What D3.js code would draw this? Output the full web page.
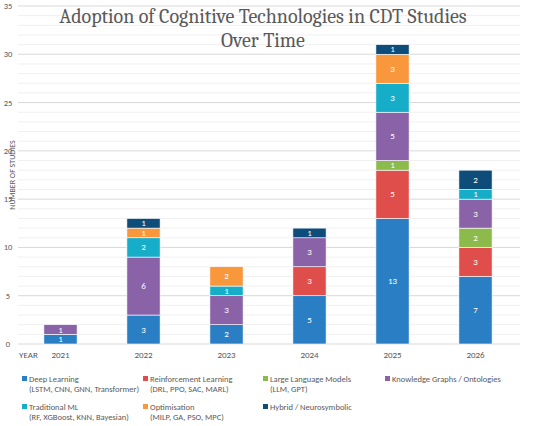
<!DOCTYPE html>
<html>
<head>
<meta charset="utf-8">
<script src="https://cdn.jsdelivr.net/npm/d3@7"></script>
<style>
  body { margin: 0; background: #fff; }
  text { font-family: Calibri, Carlito, "Open Sans", sans-serif; }
  text.title { font-family: Cambria, "Liberation Serif", "DejaVu Serif", serif; }
</style>
</head>
<body>
<svg id="chart" width="550" height="426"></svg>
<script>
const YEARS = ['2021', '2022', '2023', '2024', '2025', '2026'];
const SERIES = ['Deep Learning', 'Reinforcement Learning', 'Large Language Models',
  'Knowledge Graphs / Ontologies', 'Traditional ML', 'Optimisation', 'Hybrid / Neurosymbolic'];
const SUBLABELS = ['(LSTM, CNN, GNN, Transformer)', '(DRL, PPO, SAC, MARL)', '(LLM, GPT)',
  '', '(RF, XGBoost, KNN, Bayesian)', '(MILP, GA, PSO, MPC)', ''];
const COLORS = ['#2a7fc4', '#e04e4b', '#8cbb4b', '#8a62a8', '#15adc7', '#f9973c', '#0e4c7a'];
const deepLearning = [1, 3, 2, 5, 13, 7];
const reinforcement = [0, 0, 0, 3, 5, 3];
const llm = [0, 0, 0, 0, 1, 2];
const knowledgeGraphs = [1, 6, 3, 3, 5, 3];
const traditionalML = [0, 2, 1, 0, 3, 1];
const optimisation = [0, 1, 2, 0, 3, 0];
const hybrid = [0, 1, 0, 1, 1, 2];
const Y_TICKS = [0, 5, 10, 15, 20, 25, 30, 35];

const values = [deepLearning, reinforcement, llm, knowledgeGraphs, traditionalML, optimisation, hybrid];
const rows = YEARS.map((y, i) => {
  const r = { year: y };
  SERIES.forEach((s, k) => { r[s] = values[k][i]; });
  return r;
});
const stacked = d3.stack().keys(SERIES)(rows);

const svg = d3.select('#chart');
const x = d3.scaleBand().domain(YEARS).range([19, 517]).paddingInner(0.6).paddingOuter(0.3);
const y = d3.scaleLinear().domain([0, 35]).range([344, 6]);

// minor + major grid
svg.append('g').selectAll('line').data(d3.range(0, 36))
  .join('line')
  .attr('x1', 18).attr('x2', 520)
  .attr('y1', d => y(d)).attr('y2', d => y(d))
  .attr('stroke', d => d % 5 === 0 ? '#d9d9d9' : '#f0f0f0')
  .attr('stroke-width', 1);

svg.append('g').selectAll('text').data(Y_TICKS)
  .join('text')
  .attr('x', 8).attr('y', d => y(d) + 3)
  .attr('text-anchor', 'middle')
  .attr('font-size', 8.5).attr('fill', '#595959')
  .text(d => d);

svg.append('text')
  .attr('transform', 'translate(15,175) rotate(-90)')
  .attr('text-anchor', 'middle')
  .attr('font-size', 8).attr('fill', '#595959')
  .text('NUMBER OF STUDIES');

const layer = svg.append('g').selectAll('g').data(stacked)
  .join('g').attr('fill', (d, i) => COLORS[i]);

layer.selectAll('rect').data(d => d.filter(p => p[1] > p[0]))
  .join('rect')
  .attr('x', d => x(d.data.year))
  .attr('width', x.bandwidth())
  .attr('y', d => y(d[1]))
  .attr('height', d => y(d[0]) - y(d[1]))
  .attr('stroke', '#fff').attr('stroke-width', 0.6);

layer.selectAll('text').data(d => d.filter(p => p[1] > p[0]))
  .join('text')
  .attr('x', d => x(d.data.year) + x.bandwidth() / 2)
  .attr('y', d => (y(d[0]) + y(d[1])) / 2 + 3)
  .attr('text-anchor', 'middle')
  .attr('font-size', 9).attr('fill', '#fff')
  .text(d => d[1] - d[0]);

svg.append('g').selectAll('text').data(YEARS)
  .join('text')
  .attr('x', d => x(d) + x.bandwidth() / 2)
  .attr('y', 358)
  .attr('text-anchor', 'middle')
  .attr('font-size', 9).attr('fill', '#595959')
  .text(d => d);
svg.append('text').attr('x', 19).attr('y', 358)
  .attr('font-size', 9).attr('fill', '#595959').text('YEAR');

// title
const title = svg.append('text')
  .attr('class', 'title')
  .attr('text-anchor', 'middle')
  .attr('font-size', 20).attr('fill', '#595959');
title.append('tspan').attr('x', 263).attr('y', 23).text('Adoption of Cognitive Technologies in CDT Studies');
title.append('tspan').attr('x', 263).attr('y', 47).text('Over Time');

// legend
const legX = [22, 143, 263, 385];
const leg = svg.append('g').selectAll('g').data(SERIES)
  .join('g')
  .attr('transform', (d, i) => `translate(${legX[i % 4]},${i < 4 ? 382 : 410})`);
leg.append('rect').attr('x', 0).attr('y', -6).attr('width', 5).attr('height', 5)
  .attr('fill', (d, i) => COLORS[i]);
leg.append('text').attr('x', 7).attr('y', 0)
  .attr('font-size', 8.5).attr('fill', '#595959').text(d => d);
leg.append('text').attr('x', 7).attr('y', 10)
  .attr('font-size', 8.5).attr('fill', '#595959').text((d, i) => SUBLABELS[i]);
</script>
</body>
</html>
